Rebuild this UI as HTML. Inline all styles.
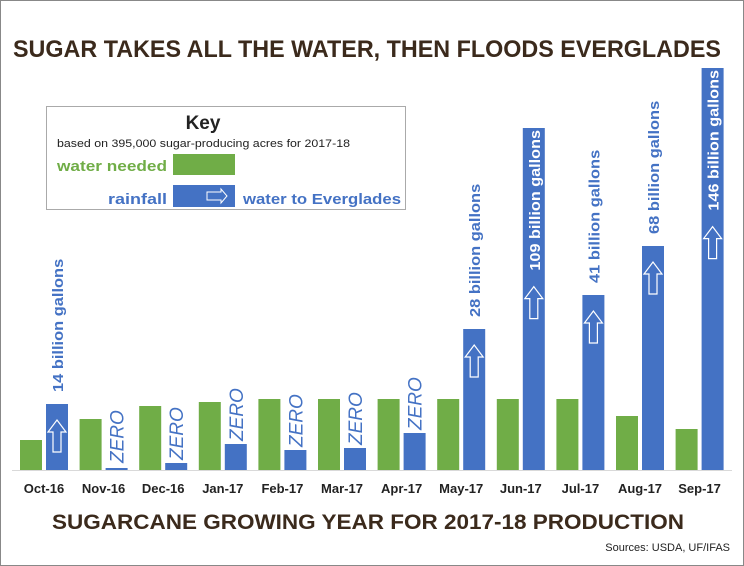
<!DOCTYPE html>
<html><head><meta charset="utf-8"><style>
html,body{margin:0;padding:0;background:#fff}
svg{display:block;font-family:"Liberation Sans",Arial,sans-serif}
</style></head><body>
<svg id="c" width="744" height="566">
<rect x="0.5" y="0.5" width="743" height="565" fill="#fff" stroke="#888"/>
<text x="13" y="57" font-size="24" font-weight="bold" fill="#3b2a1c" textLength="708" lengthAdjust="spacingAndGlyphs">SUGAR TAKES ALL THE WATER, THEN FLOODS EVERGLADES</text>
<text x="52" y="529" font-size="21" font-weight="bold" fill="#3b2a1c" textLength="632" lengthAdjust="spacingAndGlyphs">SUGARCANE GROWING YEAR FOR 2017-18 PRODUCTION</text>
<text x="730" y="551" text-anchor="end" font-size="11" fill="#222">Sources: USDA, UF/IFAS</text>
<g>
<rect x="46.5" y="106.5" width="359" height="103" fill="#fff" stroke="#aaa"/>
<text x="203" y="129" text-anchor="middle" font-size="19" font-weight="bold" fill="#222">Key</text>
<text x="57" y="147" font-size="11" fill="#222" textLength="293" lengthAdjust="spacingAndGlyphs">based on 395,000 sugar-producing acres for 2017-18</text>
<text x="57" y="171" font-size="15" font-weight="bold" fill="#70ad47" textLength="110" lengthAdjust="spacingAndGlyphs">water needed</text>
<rect x="173" y="154" width="62" height="21" fill="#70ad47"/>
<text x="108" y="204" font-size="15" font-weight="bold" fill="#4472c4" textLength="59" lengthAdjust="spacingAndGlyphs">rainfall</text>
<rect x="173" y="185" width="62" height="22" fill="#4472c4"/>
<path d="M207 192h14v-3l6 7-6 7v-3h-14z" fill="none" stroke="#fff" stroke-width="1"/>
<text x="243" y="204" font-size="15" font-weight="bold" fill="#4472c4" textLength="158" lengthAdjust="spacingAndGlyphs">water to Everglades</text>
</g>
<line x1="12" y1="470.5" x2="732" y2="470.5" stroke="#d9d9d9"/>
<g id="bars"></g>
</svg>
<script>
const categories=["Oct-16","Nov-16","Dec-16","Jan-17","Feb-17","Mar-17","Apr-17","May-17","Jun-17","Jul-17","Aug-17","Sep-17"];
const waterNeeded=[3.0,5.1,6.4,6.8,7.1,7.1,7.1,7.1,7.1,7.1,5.4,4.1];
const rainfall=[6.6,0.2,0.7,2.6,2.0,2.2,3.7,14.1,34.2,17.5,22.4,40.2];
const evergladesLabels=["14 billion gallons","ZERO","ZERO","ZERO","ZERO","ZERO","ZERO","28 billion gallons","109 billion gallons","41 billion gallons","68 billion gallons","146 billion gallons"];
const NS="http://www.w3.org/2000/svg";
const base=470,k=10,x0=20,step=59.6,bw=22;
const y=v=>base-v*k;
const xc=i=>x0+i*step;
const g=document.getElementById('bars');
function mk(t,a){const e=document.createElementNS(NS,t);for(const n in a)e.setAttribute(n,a[n]);g.appendChild(e);return e;}
categories.forEach((c,i)=>{
  const gx=xc(i),bx=gx+26;
  const gr=mk('rect',{x:gx,y:y(waterNeeded[i]),width:bw,height:waterNeeded[i]*k,fill:'#70ad47'});
  
  
  const br=mk('rect',{x:bx,y:y(rainfall[i]),width:bw,height:rainfall[i]*k,fill:'#4472c4'});
  
  
  const lt=mk('text',{x:gx+24,y:493,'text-anchor':'middle','font-size':13,'font-weight':'bold',fill:'#222'});
  lt.textContent=c;
  
  
  const lab=evergladesLabels[i];
  const top=y(rainfall[i]);
  const tx=bx+bw/2+6;
  let t;
  if(lab==="ZERO"){
    t=mk('text',{x:0,y:0,'font-size':19,'font-style':'italic',fill:'#4472c4',transform:`translate(${bx+bw/2+7},${Math.min(top,466)-3}) rotate(-90)`});
  }else{
    const inside=rainfall[i]>30;
    const len=lab.length*7.4;
    const ay=inside?top+len+16:top+14;
    const cx=bx+bw/2;
    const a=mk('path',{d:`M${cx-4} ${ay+34}v-20h-5l9-12 9 12h-5v20z`,fill:'none',stroke:'#fff','stroke-width':1.2});
    
    
    t=mk('text',{x:0,y:0,'font-size':15,'font-weight':'bold',fill:inside?'#fff':'#4472c4',textLength:len,lengthAdjust:'spacingAndGlyphs',transform:inside?`translate(${tx},${top+2}) rotate(-90)`:`translate(${tx},${top-12}) rotate(-90)`,'text-anchor':inside?'end':'start'});
  }
  t.textContent=lab;
  
  
});
</script>
</body></html>
